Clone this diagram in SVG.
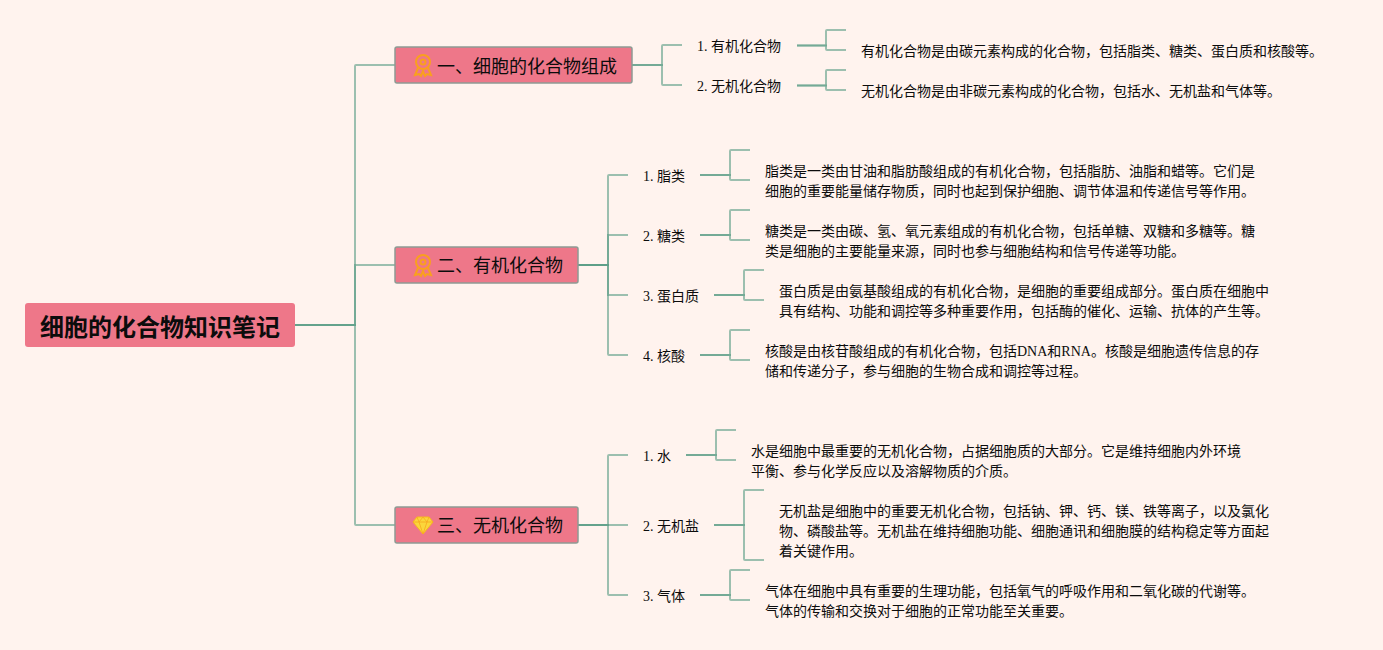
<svg xmlns="http://www.w3.org/2000/svg" width="1383" height="650" viewBox="0 0 1383 650">
<style>
text{font-family:"Liberation Serif","Noto Sans CJK SC",serif;fill:#0c0c0c}
.c{fill:none;stroke:#5a9c86;stroke-opacity:.6;stroke-width:2}
.box{fill:#ee7789;stroke:#8e9a94;stroke-width:1.5}
.b{font-size:18px;font-family:"Noto Sans CJK SC",sans-serif}
.l{font-size:14px}
.t{font-size:14px}
.ic{fill:none;stroke:#f9a01e;stroke-width:2}
</style>
<rect width="1383" height="650" fill="#fff3ee"/>
<g id="connectors">
<path class="c" d="M295 325H355V66Q355 65 356 65H395"/>
<path class="c" d="M295 325H355V265H395"/>
<path class="c" d="M295 325H355V524Q355 525 356 525H395"/>
<path class="c" d="M632 65H662V46Q662 45 663 45H682"/>
<path class="c" d="M632 65H662V84Q662 85 663 85H682"/>
<path class="c" d="M797 45.500H826V31Q826 30 827 30H846"/>
<path class="c" d="M797 45.500H826V49Q826 50 827 50H846"/>
<path class="c" d="M797 85.500H826V71Q826 70 827 70H846"/>
<path class="c" d="M797 85.500H826V89Q826 90 827 90H846"/>
<path class="c" d="M578 265H608V176Q608 175 609 175H628"/>
<path class="c" d="M578 265H608V235H628"/>
<path class="c" d="M578 265H608V295H628"/>
<path class="c" d="M578 265H608V354Q608 355 609 355H628"/>
<path class="c" d="M700 175H730V151Q730 150 731 150H750"/>
<path class="c" d="M700 175H730V179Q730 180 731 180H750"/>
<path class="c" d="M700 235H730V211Q730 210 731 210H750"/>
<path class="c" d="M700 235H730V239Q730 240 731 240H750"/>
<path class="c" d="M714 295H744V271Q744 270 745 270H764"/>
<path class="c" d="M714 295H744V299Q744 300 745 300H764"/>
<path class="c" d="M700 355H730V331Q730 330 731 330H750"/>
<path class="c" d="M700 355H730V359Q730 360 731 360H750"/>
<path class="c" d="M578 525H608V456Q608 455 609 455H628"/>
<path class="c" d="M578 525H628"/>
<path class="c" d="M578 525H608V594Q608 595 609 595H628"/>
<path class="c" d="M686 455H716V431Q716 430 717 430H736"/>
<path class="c" d="M686 455H716V459Q716 460 717 460H736"/>
<path class="c" d="M714 525H744V491Q744 490 745 490H764"/>
<path class="c" d="M714 525H744V559Q744 560 745 560H764"/>
<path class="c" d="M700 595H730V571Q730 570 731 570H750"/>
<path class="c" d="M700 595H730V599Q730 600 731 600H750"/>
</g>
<g id="root"><rect x="25" y="303" width="270" height="44" rx="3" fill="#ee7789"/><text x="40" y="336" font-size="24" font-weight="700" style="font-family:'Noto Sans CJK SC',sans-serif">细胞的化合物知识笔记</text></g>
<g id="b1"><rect class="box" x="395" y="47" width="237" height="36" rx="2"/><g class="ic"><circle cx="423" cy="62" r="7"/><circle cx="423" cy="62" r="2.500"/><path d="M418 68L415 75L419 74L421 76L423 71L425 76L427 74L431 75L428 68"/></g><text class="b" x="437" y="73">一、细胞的化合物组成</text></g>
<g id="b2"><rect class="box" x="395" y="247" width="183" height="36" rx="2"/><g class="ic"><circle cx="423" cy="262" r="7"/><circle cx="423" cy="262" r="2.500"/><path d="M418 268L415 275L419 274L421 276L423 271L425 276L427 274L431 275L428 268"/></g><text class="b" x="437" y="272">二、有机化合物</text></g>
<g id="b3"><rect class="box" x="395" y="507" width="183" height="36" rx="2"/><path d="M417 517H429L433 522L423 534L413 522Z" fill="#fbd63b" stroke="#f7b820"/><path d="M413 522H433M419 522L423 534L427 522M417 517L419 522L423 517L427 522L429 517" fill="none" stroke="#f7a81e" stroke-width=".8"/><text class="b" x="437" y="532">三、无机化合物</text></g>
<g id="n11"><text class="l" x="697" y="51">1. 有机化合物</text></g>
<g id="n12"><text class="l" x="697" y="91">2. 无机化合物</text></g>
<g id="t11"><text class="t" x="861" y="56">有机化合物是由碳元素构成的化合物，包括脂类、糖类、蛋白质和核酸等。</text></g>
<g id="t12"><text class="t" x="861" y="96">无机化合物是由非碳元素构成的化合物，包括水、无机盐和气体等。</text></g>
<g id="n21"><text class="l" x="643" y="181">1. 脂类</text></g>
<g id="n22"><text class="l" x="643" y="241">2. 糖类</text></g>
<g id="n23"><text class="l" x="643" y="301">3. 蛋白质</text></g>
<g id="n24"><text class="l" x="643" y="361">4. 核酸</text></g>
<g id="t21"><text class="t" x="765" y="176">脂类是一类由甘油和脂肪酸组成的有机化合物，包括脂肪、油脂和蜡等。它们是</text><text class="t" x="765" y="196">细胞的重要能量储存物质，同时也起到保护细胞、调节体温和传递信号等作用。</text></g>
<g id="t22"><text class="t" x="765" y="236">糖类是一类由碳、氢、氧元素组成的有机化合物，包括单糖、双糖和多糖等。糖</text><text class="t" x="765" y="256">类是细胞的主要能量来源，同时也参与细胞结构和信号传递等功能。</text></g>
<g id="t23"><text class="t" x="779" y="296">蛋白质是由氨基酸组成的有机化合物，是细胞的重要组成部分。蛋白质在细胞中</text><text class="t" x="779" y="316">具有结构、功能和调控等多种重要作用，包括酶的催化、运输、抗体的产生等。</text></g>
<g id="t24"><text class="t" x="765" y="356">核酸是由核苷酸组成的有机化合物，包括DNA和RNA。核酸是细胞遗传信息的存</text><text class="t" x="765" y="376">储和传递分子，参与细胞的生物合成和调控等过程。</text></g>
<g id="n31"><text class="l" x="643" y="461">1. 水</text></g>
<g id="n32"><text class="l" x="643" y="531">2. 无机盐</text></g>
<g id="n33"><text class="l" x="643" y="601">3. 气体</text></g>
<g id="t31"><text class="t" x="751" y="456">水是细胞中最重要的无机化合物，占据细胞质的大部分。它是维持细胞内外环境</text><text class="t" x="751" y="476">平衡、参与化学反应以及溶解物质的介质。</text></g>
<g id="t32"><text class="t" x="779" y="516">无机盐是细胞中的重要无机化合物，包括钠、钾、钙、镁、铁等离子，以及氯化</text><text class="t" x="779" y="536">物、磷酸盐等。无机盐在维持细胞功能、细胞通讯和细胞膜的结构稳定等方面起</text><text class="t" x="779" y="556">着关键作用。</text></g>
<g id="t33"><text class="t" x="765" y="596">气体在细胞中具有重要的生理功能，包括氧气的呼吸作用和二氧化碳的代谢等。</text><text class="t" x="765" y="616">气体的传输和交换对于细胞的正常功能至关重要。</text></g>
</svg>
